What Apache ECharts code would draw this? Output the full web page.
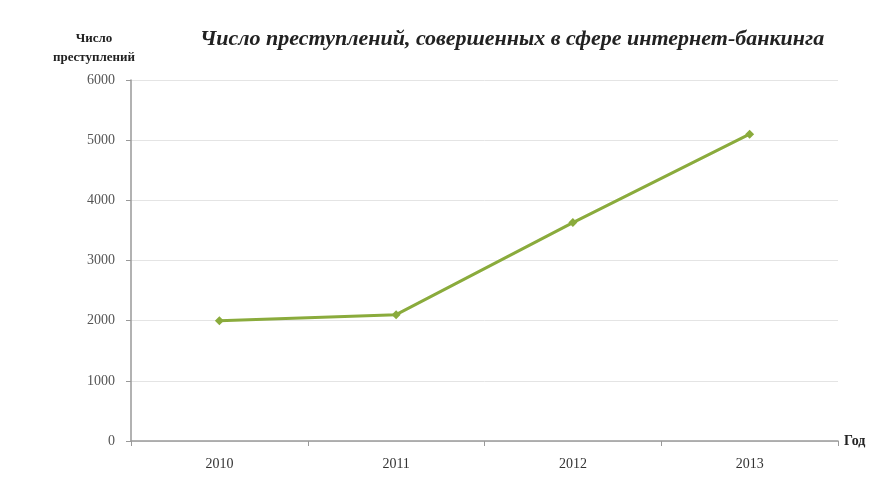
<!DOCTYPE html>
<html>
<head>
<meta charset="utf-8">
<script src="https://cdn.jsdelivr.net/npm/echarts@6/dist/echarts.min.js"></script>
<style>
  html, body { margin: 0; padding: 0; background: #fff; }
  #chart { width: 889px; height: 480px; }
</style>
</head>
<body>
<div id="chart"></div>
<script>
// данные графика
const years = ['2010', '2011', '2012', '2013'];
const crimes = [2000, 2100, 3630, 5100];
const yTicks = [0, 1000, 2000, 3000, 4000, 5000, 6000];

const chart = echarts.init(document.getElementById('chart'));
const serif = '"Liberation Serif", "DejaVu Serif", serif';

const option = {
  backgroundColor: '#fff',
  animation: false,
  title: {
    text: 'Число преступлений, совершенных в сфере интернет-банкинга',
    left: 507,
    top: 23,
    textAlign: 'center',
    textStyle: {
      fontFamily: serif,
      fontStyle: 'italic',
      fontWeight: 'bold',
      fontSize: 22,
      color: '#222'
    }
  },
  grid: {
    left: 131,
    right: 51,
    top: 80,
    bottom: 39
  },
  xAxis: {
    type: 'category',
    data: years,
    boundaryGap: true,
    name: 'Год',
    nameLocation: 'end',
    nameGap: 6,
    nameTextStyle: {
      fontFamily: serif,
      fontWeight: 'bold',
      fontSize: 14,
      color: '#222',
      padding: [8, 0, 0, 0]
    },
    axisLine: { lineStyle: { color: '#999', width: 1.5 } },
    axisTick: { show: true, length: 5, lineStyle: { color: '#999' } },
    axisLabel: {
      fontFamily: serif,
      fontSize: 14,
      color: '#333',
      margin: 16
    },
    splitLine: { show: false }
  },
  yAxis: {
    type: 'value',
    min: yTicks[0],
    max: yTicks[yTicks.length - 1],
    interval: 1000,
    name: 'Число\nпреступлений',
    nameLocation: 'end',
    nameGap: 13,
    nameTextStyle: {
      fontFamily: serif,
      fontWeight: 'bold',
      fontSize: 13,
      lineHeight: 19,
      color: '#222',
      align: 'center',
      padding: [0, 74, 0, 0]
    },
    axisLine: { show: true, lineStyle: { color: '#999', width: 1.5 } },
    axisTick: { show: true, length: 5, lineStyle: { color: '#999' } },
    axisLabel: {
      fontFamily: serif,
      fontSize: 14,
      color: '#555',
      margin: 16,
      formatter: v => String(v)
    },
    splitLine: { show: true, lineStyle: { color: '#e4e4e4', width: 1 } }
  },
  series: [{
    name: 'Число преступлений',
    type: 'line',
    data: crimes,
    symbol: 'diamond',
    symbolSize: 9,
    lineStyle: { color: '#8aab3c', width: 3 },
    itemStyle: { color: '#8aab3c' }
  }]
};

chart.setOption(option);
</script>
</body>
</html>
